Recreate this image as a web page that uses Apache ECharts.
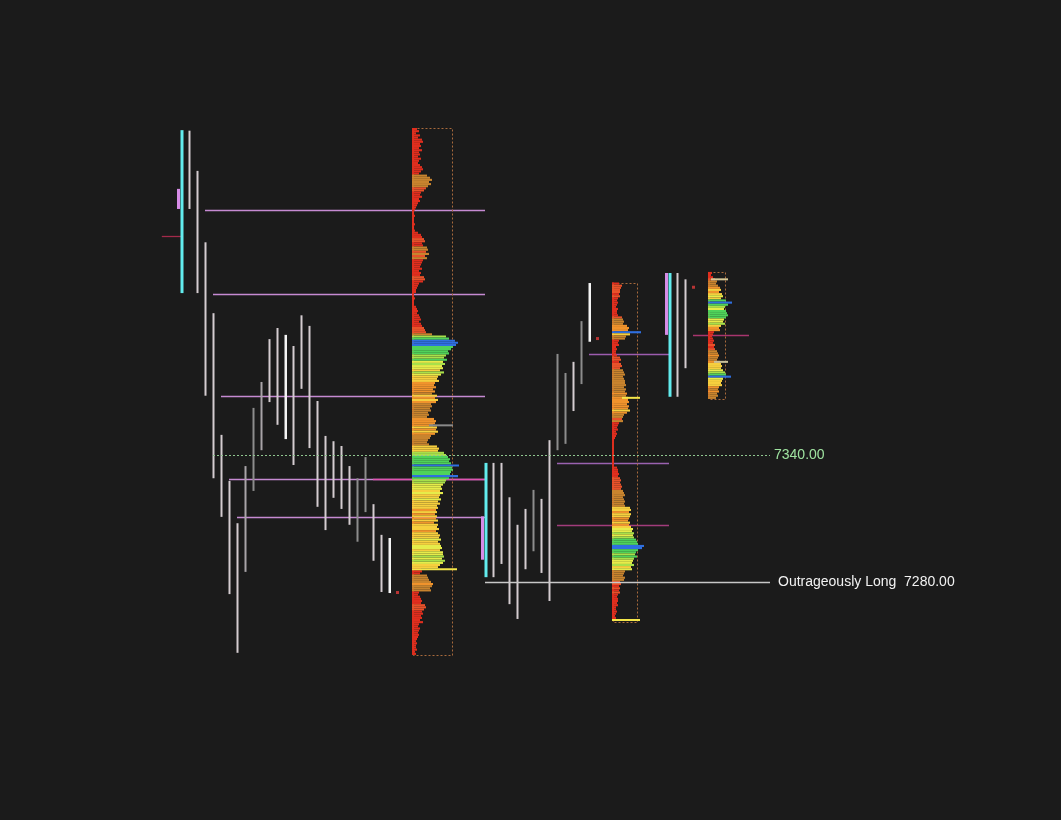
<!DOCTYPE html>
<html>
<head>
<meta charset="utf-8">
<script src="https://cdn.jsdelivr.net/npm/echarts@6/dist/echarts.min.js"></script>
<style>
html,body{margin:0;padding:0;background:#1b1b1b;}
#chart{width:1061px;height:820px;}
</style>
</head>
<body>
<div id="chart"></div>
<script>
// ---------------- DATA ----------------
// TPO periods: slot index (30-min period), low, high
const tpoSlots = [0,1,2,3,4,5,6,7,8,9,10,11,12,13,14,15,16,17,18,19,20,21,22,23,24,25,26,
                  38,39,40,41,42,43,44,45,46,47,48,49,50,51,
                  61,62,63];
const tpoLows  = [7416.5,7456.25,7416.5,7368,7329,7310.75,7274.25,7246.5,7284.75,7323,7342.25,7365,7354.25,7347.5,7335.25,7371.25,7343.25,7315.5,7304.5,7319.75,7314.5,7307,7299,7313,7290,7275.25,7274.75,
                  7282.25,7282.25,7288.5,7269.5,7262.5,7286,7294.5,7284.25,7271,7342.25,7345.25,7360.75,7373.5,7393.5,
                  7367.5,7367.5,7381];
const tpoHighs = [7493.5,7493.25,7474.25,7440.5,7407,7349.5,7327.75,7307.75,7334.75,7362.25,7374.5,7394.75,7400,7396.75,7391.5,7406,7401,7365.5,7349,7346.5,7344.25,7334.75,7329,7339,7316.75,7302.25,7300.75,
                  7336.25,7336.25,7336.25,7320,7307,7314.5,7323.5,7319.25,7347,7387.75,7378.75,7384,7403.25,7421.25,
                  7426,7426,7423];
// Initial-balance extension blocks (one per session)
const ibSlots = [0, 38, 61];
const ibLows  = [7456.25, 7290.5, 7396.75];
const ibHighs = [7465.75, 7311, 7426];
// single prints / stray ticks
const dotSlots  = [27, 52, 64];
const dotPrices = [7275.25, 7395.25, 7419.5];

// Naked levels: price, start slot, end slot
const levelPrices = [7455.75, 7416, 7368, 7328.5, 7310.75, 7328.5, 7387.75, 7336.25, 7307, 7396.75, 7443.5];
const levelFrom   = [3, 4, 5, 6, 7, 24, 51, 47, 47, 64, -2.4];
const levelTo     = [38, 38, 38, 38, 38, 38, 61, 61, 61, 71, 0];

// Reference lines with labels
const refPrices = [7340, 7280];
const refNames  = ['', 'Outrageously Long'];
const refFrom   = [4, 38];
const refTo     = [73.625, 73.625];

// Volume profiles: base slot, top price (1-pt rows going down), box width (volume units)
const profileBase = [29, 54, 66];
const profileTop  = [7494, 7421, 7426];
const profileBoxW = [39, 24, 16];
const profile1 = [4,6,3,7,5, 9,10,7,8,6,9, 6,7,5,8,6,5,7, 9,10,8,6, 14,17,19,16,18, 15,13,11, 8,7,9,6,7, 5,4,3,
  2,1,1,2,1,1,1,2,1,1,2, 5,8,9, 11,12,9,10, 14,15,13,16,12,14, 10,9,8,7,9,6,8,7, 11,12,10, 6,5,4,3,3,
  1,1,2,1,1,1, 3,4,5,4,6, 7,8,6,8,9, 11,12,13, 19, 33,36,42, 45,43,40, 38,35,36, 33,31,34,30,32,
  29,30,27,31,28, 25,24,26, 22,21,23,20,22,19, 24,22,25,23, 18,19,17,18, 15,16,14, 21,23,22,20,
  24,23,25,22, 18,17, 15,14,16, 24,26,25, 31,33, 35,37,36,38, 46,39,40, 38,37,45,36, 33,32,
  30,28,29,27,30, 27,26,28,25,27, 24,25,23,24, 22,24,23,25,21, 25,24,26,23,25, 27,26,28,25,27,
  28,29,27,30, 30,31,29,32,30, 27,25, 8,9,7, 14,15,16, 18,20,19,17,18, 6,5,7, 8,9,8, 12,13,11,
  9,10,8,9,7,10, 6,5,7,6,5,6,5, 4,3,4,3,3,4,2,3];
const profile2 = [6,9,8,7, 7,6,7,5, 4,5,4,3,5,4,4,5, 9,10,11,10, 14,16,15, 28,17, 13,12, 6,5,6, 3,4,3,3,4,
  7,8,6,8,9,7, 10,11,12,10,11,12, 12,13,11,13,12,14,13, 15, 15,16,14,16,15,17,14, 11,10,9,10,
  6,5,4,5,3,4,3,2, 1,1,1,1,1,1,1,1,1,1,1,1,1, 4,5,5,6,5, 7,8,7,8,9,8, 10,11,12,10,11,12,11,12,
  17,18,16,18,17, 16,15,17,16,18, 20,19,21,20,21, 23,24,25, 31,29, 25,23,22,24,21, 20,19,21,18,19,
  12,11,10,12,11, 7,8,6,7,6,7, 5,4,5,5,4,5, 3,3,4,3,2,3,2];
const profile3 = [3,2,4,6, 8,7,9, 11,12,10, 13,14,12, 17,23,19, 16,15,17, 18,19,17, 15,14,16, 12,10,11,
  5,4,3,4, 5,4,6,5,6, 8,9,10,9,8, 11,12,13,12,14, 16,17, 22, 14,13,12,13, 10,9,10,8,9,7];
const profiles = [profile1, profile2, profile3];
// Open/close ticks on the profiles: profile, price, from vol, to vol
const tickProfile = [0, 0, 1, 1, 2, 2];
const tickPrices  = [7286, 7354, 7367, 7262, 7423, 7384];
const tickFrom    = [0, 17, 10, 0, 3, 6];
const tickTo      = [44, 40, 27, 27, 19, 19];

// ---------------- STYLE ----------------
const VOL2SLOT = 1 / 8;
const dimSlots = new Set([9, 22, 23, 44, 47, 48, 50]);
const midSlots = new Set([10, 8]);
const brightSlots = new Set([13, 26, 51]);
const ibStartSlots = new Set([0, 38, 61]);
const levelColors = ['#c58ad2','#c58ad2','#c58ad2','#c58ad2','#c58ad2','#e052b0','#9c5cae','#9a62b0','#a23c7c','#a8356e','#a32a4a'];
const tickColors = ['#f3e64a', '#8a8a8a', '#f3e64a', '#f3e64a', '#d6c896', '#c8c09a'];
const refLineColors = ['#8fc58f', '#c8c8c8'];
const refTextColors = ['#9fe3a0', '#f2f2f2'];

function heat(r) {
  if (r < 0.22) return '#e02e1e';
  if (r < 0.30) return '#e8522a';
  if (r < 0.42) return '#c8842e';
  if (r < 0.52) return '#f0932c';
  if (r < 0.60) return '#f6cf3e';
  if (r < 0.66) return '#e6ec4a';
  if (r < 0.72) return '#a8e04a';
  if (r < 0.88) return '#4fd25a';
  if (r < 0.90) return '#38b48c';
  return '#2f6fe0';
}

const profileMax = profiles.map(p => Math.max(...p));

// ---------------- SERIES DATA ----------------
const profileData = [];
profiles.forEach((arr, p) => arr.forEach((v, i) => profileData.push([p, profileTop[p] - i, v])));
const tpoData = tpoSlots.map((s, i) => [s, tpoLows[i], tpoHighs[i]]);
const ibData = ibSlots.map((s, i) => [s, ibLows[i], ibHighs[i]]);
const dotData = dotSlots.map((s, i) => [s, dotPrices[i]]);
const levelData = levelPrices.map((p, i) => [levelFrom[i], p, levelTo[i], i]);
const refData = refPrices.map((p, i) => [refFrom[i], p, refTo[i], i]);
const boxData = profileBase.map((b, p) => [b, profileTop[p], p]);
const tickData = tickPrices.map((pr, i) => [profileBase[tickProfile[i]], pr, tickFrom[i], tickTo[i], i]);

const chart = echarts.init(document.getElementById('chart'), null, {renderer: 'canvas'});
chart.setOption({
  backgroundColor: '#1b1b1b',
  animation: false,
  grid: {left: 0, right: 0, top: 0, bottom: 0},
  xAxis: {type: 'value', min: -22.625, max: 110, show: false},
  yAxis: {type: 'value', min: 7167.5, max: 7555, show: false},
  series: [
    { // levels
      type: 'custom', data: levelData, encode: {x: [0, 2], y: 1}, clip: false, z: 2,
      renderItem: (params, api) => {
        const a = api.coord([api.value(0), api.value(1)]);
        const b = api.coord([api.value(2), api.value(1)]);
        return {type: 'line', shape: {x1: a[0], y1: Math.round(a[1]) + 0.5, x2: b[0], y2: Math.round(a[1]) + 0.5},
          style: {stroke: levelColors[api.value(3)], lineWidth: 1.3}};
      }
    },
    { // profile boxes + base lines
      type: 'custom', data: boxData, encode: {x: 0, y: 1}, clip: false, z: 3,
      renderItem: (params, api) => {
        const p = api.value(2);
        const base = api.value(0);
        const top = api.value(1) + 0.5;
        const bot = profileTop[p] - profiles[p].length + 0.5;
        const a = api.coord([base, top]);
        const b = api.coord([base + profileBoxW[p] * VOL2SLOT, bot]);
        return {type: 'group', children: [
          {type: 'rect', shape: {x: a[0] - 1, y: a[1], width: 2, height: b[1] - a[1]}, style: {fill: '#d42a1a'}},
          {type: 'rect', shape: {x: Math.round(a[0]) + 0.5, y: Math.round(a[1]) + 0.5, width: Math.round(b[0] - a[0]), height: Math.round(b[1] - a[1])},
            style: {fill: 'none', stroke: '#a86a3c', lineWidth: 1, lineDash: [2, 2]}}
        ]};
      }
    },
    { // profiles
      type: 'custom', data: profileData, encode: {x: 0, y: 1}, clip: false, z: 4,
      renderItem: (params, api) => {
        const p = api.value(0), pr = api.value(1), v = api.value(2);
        const base = profileBase[p];
        const a = api.coord([base, pr + 0.5]);
        const b = api.coord([base + v * VOL2SLOT, pr - 0.5]);
        return {type: 'rect', shape: {x: a[0] - 1, y: a[1], width: b[0] - a[0] + 1, height: b[1] - a[1]},
          style: {fill: heat(v / profileMax[p])}};
      }
    },
    { // ticks on profiles
      type: 'custom', data: tickData, encode: {x: 0, y: 1}, clip: false, z: 5,
      renderItem: (params, api) => {
        const base = api.value(0), pr = api.value(1);
        const a = api.coord([base + api.value(2) * VOL2SLOT, pr]);
        const b = api.coord([base + api.value(3) * VOL2SLOT, pr]);
        return {type: 'rect', shape: {x: a[0] - 1, y: a[1] - 1, width: b[0] - a[0] + 1, height: 2},
          style: {fill: tickColors[api.value(4)]}};
      }
    },
    { // TPO columns
      type: 'custom', data: tpoData, encode: {x: 0, y: [1, 2]}, clip: false, z: 6,
      renderItem: (params, api) => {
        const s = api.value(0);
        const a = api.coord([s, api.value(2)]);
        const b = api.coord([s, api.value(1)]);
        let color = '#d4ccd0', w = 2;
        if (ibStartSlots.has(s)) { color = '#62ecee'; w = 3; }
        else if (dimSlots.has(s)) color = '#8c8c8c';
        else if (midSlots.has(s)) color = '#a9a4a8';
        else if (brightSlots.has(s)) { color = '#f4f4f4'; w = 2.5; }
        return {type: 'rect', shape: {x: a[0] - 0.5, y: a[1], width: w, height: b[1] - a[1]}, style: {fill: color}};
      }
    },
    { // IB extension blocks
      type: 'custom', data: ibData, encode: {x: 0, y: [1, 2]}, clip: false, z: 7,
      renderItem: (params, api) => {
        const s = api.value(0);
        const a = api.coord([s, api.value(2)]);
        const b = api.coord([s, api.value(1)]);
        return {type: 'rect', shape: {x: a[0] - 4, y: a[1], width: 3, height: b[1] - a[1]}, style: {fill: '#d68be6'}};
      }
    },
    { // stray dots
      type: 'custom', data: dotData, encode: {x: 0, y: 1}, clip: false, z: 7,
      renderItem: (params, api) => {
        const a = api.coord([api.value(0), api.value(1)]);
        return {type: 'rect', shape: {x: a[0] - 1, y: a[1] - 1, width: 3, height: 3}, style: {fill: '#b83434'}};
      }
    },
    { // reference lines with labels
      type: 'custom', data: refData, encode: {x: [0, 2], y: 1}, clip: false, z: 8,
      renderItem: (params, api) => {
        const i = api.value(3), pr = api.value(1);
        const a = api.coord([api.value(0), pr]);
        const b = api.coord([api.value(2), pr]);
        const y = Math.round(a[1]) + 0.5;
        const name = refNames[i];
        const txt = (name ? name + '  ' : '') + pr.toFixed(2);
        return {type: 'group', children: [
          {type: 'line', shape: {x1: a[0], y1: y, x2: b[0], y2: y},
            style: {stroke: refLineColors[i], lineWidth: i === 0 ? 1 : 1.5, lineDash: i === 0 ? [2, 2] : null}},
          {type: 'text', x: b[0] + (i === 0 ? 4 : 8), y: y,
            style: {text: txt, fill: refTextColors[i], font: '14px "Liberation Sans", Arial, sans-serif', textVerticalAlign: 'middle', verticalAlign: 'middle'}}
        ]};
      }
    }
  ]
});
</script>
</body>
</html>
